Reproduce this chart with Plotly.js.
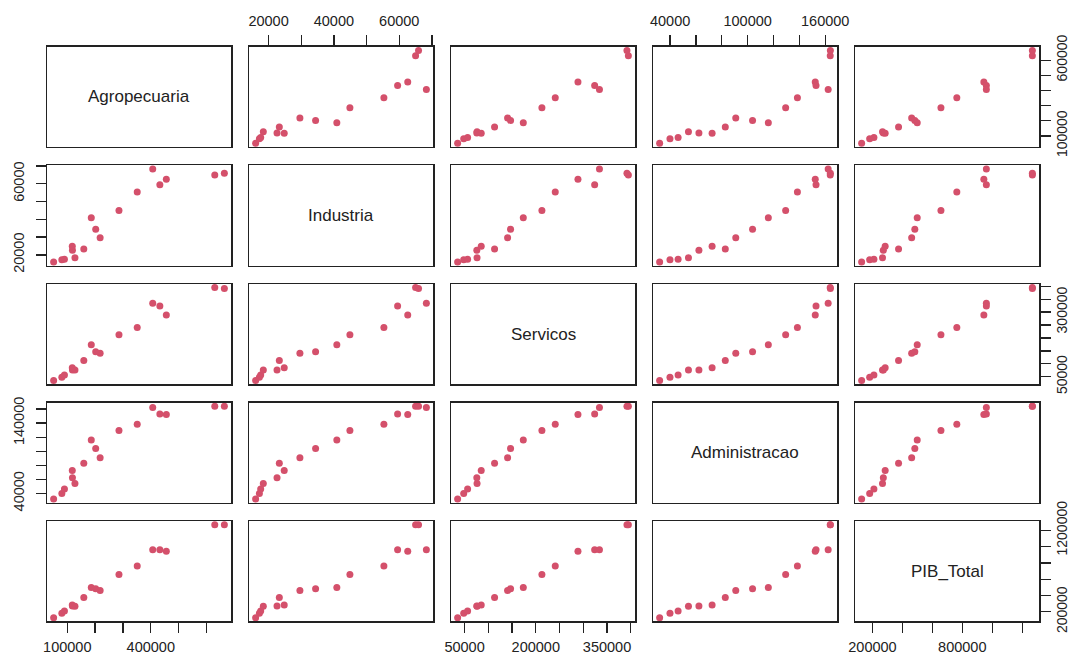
<!DOCTYPE html>
<html>
<head>
<meta charset="utf-8">
<script src="https://cdn.plot.ly/plotly-3.0.1.min.js"></script>
<style>
  html, body { margin: 0; padding: 0; background: #fff; }
  #chart { width: 1072px; height: 656px; }
</style>
</head>
<body>
<div id="chart"></div>
<script>
// ---- data ----
const varNames = ['Agropecuaria', 'Industria', 'Servicos', 'Administracao', 'PIB_Total'];

const agropecuaria  = [50900, 80400, 89700, 127500, 118500, 117900, 159300, 218000, 202100, 186200, 285700, 351300, 455800, 432600, 407000, 629900, 664400];
const industria     = [16050, 17200, 17600, 18400, 22600, 24800, 23300, 29600, 34400, 40900, 44900, 55300, 62600, 59500, 68300, 65000, 65900];
const servicos      = [35400, 48200, 56400, 76300, 75800, 85100, 113200, 140600, 146900, 173700, 212900, 241000, 288800, 324000, 334100, 395000, 392000];
const administracao = [31900, 39900, 46200, 54200, 62300, 72500, 82700, 90800, 103800, 116000, 129400, 138500, 152300, 152900, 162300, 163900, 164000];
const pibTotal      = [127800, 181500, 209800, 267200, 272700, 285000, 374400, 462000, 483000, 499000, 657400, 763500, 944000, 960700, 960700, 1268000, 1268000];

// tick values and the labels R kept (others dropped for overlap)
const agroTicks = [100000, 200000, 300000, 400000, 500000, 600000];
const agroXLabels = ['100000', '', '', '400000', '', ''];
const agroYLabels = ['100000', '', '', '', '', '600000'];

const indTicks = [20000, 30000, 40000, 50000, 60000, 70000];
const indXLabels = ['20000', '', '40000', '', '60000', ''];
const indYLabels = ['20000', '', '', '', '60000', ''];

const servTicks = [50000, 100000, 150000, 200000, 250000, 300000, 350000, 400000];
const servXLabels = ['50000', '', '', '200000', '', '', '350000', ''];
const servYLabels = ['50000', '', '', '', '', '300000', '', ''];

const admTicks = [40000, 60000, 80000, 100000, 120000, 140000, 160000];
const admXLabels = ['40000', '', '', '100000', '', '', '160000'];
const admYLabels = ['40000', '', '', '', '', '140000', ''];

const pibTicks = [200000, 400000, 600000, 800000, 1000000, 1200000];
const pibXLabels = ['200000', '', '', '800000', '', ''];
const pibYLabels = ['200000', '', '', '', '', '1200000'];

// ---- build ----
const series = [agropecuaria, industria, servicos, administracao, pibTotal];
const ticks = [agroTicks, indTicks, servTicks, admTicks, pibTicks];
const xLabels = [agroXLabels, indXLabels, servXLabels, admXLabels, pibXLabels];
const yLabels = [agroYLabels, indYLabels, servYLabels, admYLabels, pibYLabels];

function rRange(a) { // R default: data range extended by 4% each side
  const mn = Math.min(...a), mx = Math.max(...a), d = mx - mn;
  return [mn - 0.04 * d, mx + 0.04 * d];
}
const ranges = series.map(rRange);

const W = 1072, H = 656;
const colX0 = 46.8, colStep = 202.0, colW = 184.4;
const rowY0 = 46.7, rowStep = 118.6, rowH = 100.3;

const tickFont = { family: 'Liberation Sans, Arial, sans-serif', size: 14.5, color: '#222' };
const yTickFontRight = { family: 'Liberation Sans, Arial, sans-serif', size: 14, color: '#222' };
const lineCol = '#222';
const pointCol = '#D4506B';

const layout = {
  width: W, height: H,
  margin: { l: 0, r: 0, t: 0, b: 0 },
  paper_bgcolor: '#fff', plot_bgcolor: '#fff',
  showlegend: false,
  annotations: []
};
const data = [];

for (let r = 0; r < 5; r++) {
  for (let c = 0; c < 5; c++) {
    const k = r * 5 + c + 1;
    const xn = k === 1 ? 'x' : 'x' + k;
    const yn = k === 1 ? 'y' : 'y' + k;
    const x0 = colX0 + c * colStep, x1 = x0 + colW;
    const yTop = rowY0 + r * rowStep, yBot = yTop + rowH;

    const xa = {
      domain: [x0 / W, x1 / W], anchor: yn, range: ranges[c],
      showline: true, mirror: true, linecolor: lineCol, linewidth: 1.3,
      showgrid: false, zeroline: false, ticks: '', showticklabels: false,
      tickfont: tickFont
    };
    const ya = {
      domain: [1 - yBot / H, 1 - yTop / H], anchor: xn, range: ranges[r],
      showline: true, mirror: true, linecolor: lineCol, linewidth: 1.3,
      showgrid: false, zeroline: false, ticks: '', showticklabels: false,
      tickfont: tickFont
    };
    if ((r === 4 && c % 2 === 0) || (r === 0 && c % 2 === 1)) {
      Object.assign(xa, {
        side: r === 4 ? 'bottom' : 'top', ticks: 'outside', ticklen: 10, tickwidth: 1.3,
        tickcolor: lineCol, tickmode: 'array', tickvals: ticks[c], ticktext: xLabels[c],
        showticklabels: true, ticklabelstandoff: r === 4 ? 2 : 4
      });
    }
    if ((c === 0 && r % 2 === 1) || (c === 4 && r % 2 === 0)) {
      Object.assign(ya, {
        side: c === 0 ? 'left' : 'right', ticks: 'outside', ticklen: 10, tickwidth: 1.3,
        tickcolor: lineCol, tickmode: 'array', tickvals: ticks[r], ticktext: yLabels[r],
        showticklabels: true, tickangle: -90, ticklabelstandoff: c === 0 ? 6 : 0,
        tickfont: c === 0 ? tickFont : yTickFontRight
      });
    }
    layout[k === 1 ? 'xaxis' : 'xaxis' + k] = xa;
    layout[k === 1 ? 'yaxis' : 'yaxis' + k] = ya;

    if (r === c) {
      // empty trace so the diagonal subplot (box + axes) is created
      data.push({
        type: 'scatter', mode: 'markers', xaxis: xn, yaxis: yn,
        x: [], y: [], hoverinfo: 'skip', showlegend: false
      });
      layout.annotations.push({
        xref: xn + ' domain', yref: yn + ' domain', x: 0.5, y: 0.5,
        text: varNames[r], showarrow: false,
        font: { family: 'Liberation Sans, Arial, sans-serif', size: 17, color: '#222' }
      });
    } else {
      data.push({
        type: 'scatter', mode: 'markers', xaxis: xn, yaxis: yn,
        x: series[c], y: series[r], cliponaxis: false,
        marker: { size: 7, color: pointCol, line: { width: 0 } },
        hoverinfo: 'x+y'
      });
    }
  }
}

Plotly.newPlot('chart', data, layout, { staticPlot: true, displayModeBar: false });
</script>
</body>
</html>
